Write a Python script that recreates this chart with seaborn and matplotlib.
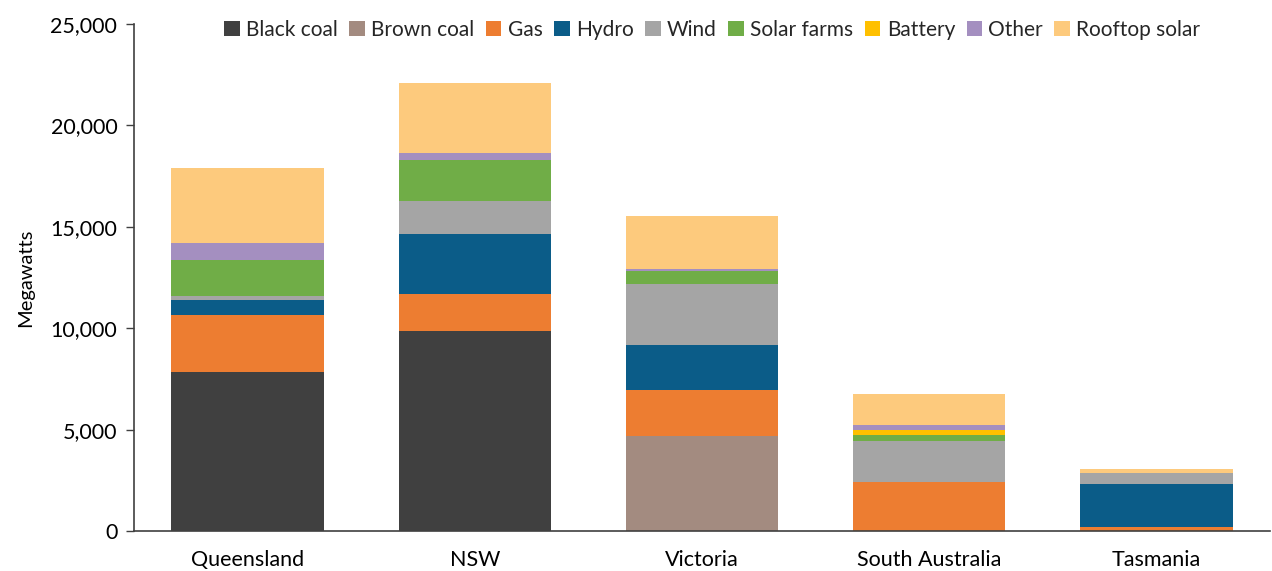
import matplotlib
matplotlib.use("Agg")
import matplotlib.pyplot as plt
import seaborn as sns
import pandas as pd
import numpy as np
from matplotlib.patches import Patch
from matplotlib.ticker import FuncFormatter

states = ["Queensland", "NSW", "Victoria", "South Australia", "Tasmania"]
sources = ["Black coal", "Brown coal", "Gas", "Hydro", "Wind", "Solar farms",
           "Battery", "Other", "Rooftop solar"]

black_coal = [7820, 9880, 0, 0, 0]
brown_coal = [0, 0, 4680, 0, 0]
gas = [2830, 1810, 2260, 2400, 180]
hydro = [740, 2970, 2230, 0, 2120]
wind = [180, 1610, 2990, 2040, 580]
solar_farms = [1780, 2010, 680, 310, 0]
battery = [0, 0, 0, 230, 0]
other = [870, 360, 100, 230, 0]
rooftop_solar = [3660, 3450, 2580, 1530, 180]

colors = ["#404040", "#A38B80", "#ED7D31", "#0B5C88", "#A5A5A5", "#70AD47",
          "#FFC000", "#A48FC0", "#FDCA7D"]

series = [black_coal, brown_coal, gas, hydro, wind, solar_farms, battery, other, rooftop_solar]

sns.set_theme(style="white")
plt.rcParams["font.family"] = ["Lato", "DejaVu Sans"]

fig = plt.figure(figsize=(12.72, 5.71), dpi=100)
ax = fig.add_axes([134 / 1272, 1 - 531 / 571, (1270 - 134) / 1272, (531 - 24) / 571])

cum = np.cumsum(np.array(series, dtype=float), axis=0)
# draw from top of stack down (overdraw)
for i in range(len(sources) - 1, -1, -1):
    df = pd.DataFrame({"state": states, "value": cum[i]})
    sns.barplot(data=df, x="state", y="value", order=states, color=colors[i],
                width=0.67, ax=ax, saturation=1, edgecolor="none", linewidth=0)

ax.set_ylim(0, 25000)
ax.set_xlim(-0.5, 4.5)
ax.set_yticks(np.arange(0, 25001, 5000))
ax.yaxis.set_major_formatter(FuncFormatter(lambda v, p: f"{int(v):,}"))
ax.set_xlabel("")
ax.set_ylabel("Megawatts", fontsize=14.5, color="#000000", labelpad=12)

# x ticks between categories
ax.set_xticks([0.5, 1.5, 2.5, 3.5], minor=True)
ax.tick_params(axis="x", which="major", length=0, labelsize=15.5, colors="#000000", pad=14)
ax.tick_params(axis="x", which="minor", length=6, width=1, color="#404040", direction="out")
ax.tick_params(axis="y", which="major", length=6, width=1, color="#404040", direction="out",
               labelsize=15.5, left=True, pad=6)
for lab in ax.get_yticklabels():
    lab.set_color("#000000")

for s in ["top", "right"]:
    ax.spines[s].set_visible(False)
for s in ["left", "bottom"]:
    ax.spines[s].set_color("#404040")
    ax.spines[s].set_linewidth(1.2)

handles = [Patch(facecolor=c, edgecolor="none", label=l) for c, l in zip(colors, sources)]
ax.legend(handles=handles, loc="upper center", bbox_to_anchor=(0.509, 1.045), ncol=9,
          frameon=False, fontsize=15, handlelength=0.75, handleheight=0.75,
          handletextpad=0.3, columnspacing=0.55)

fig.savefig("out.png", dpi=100)
